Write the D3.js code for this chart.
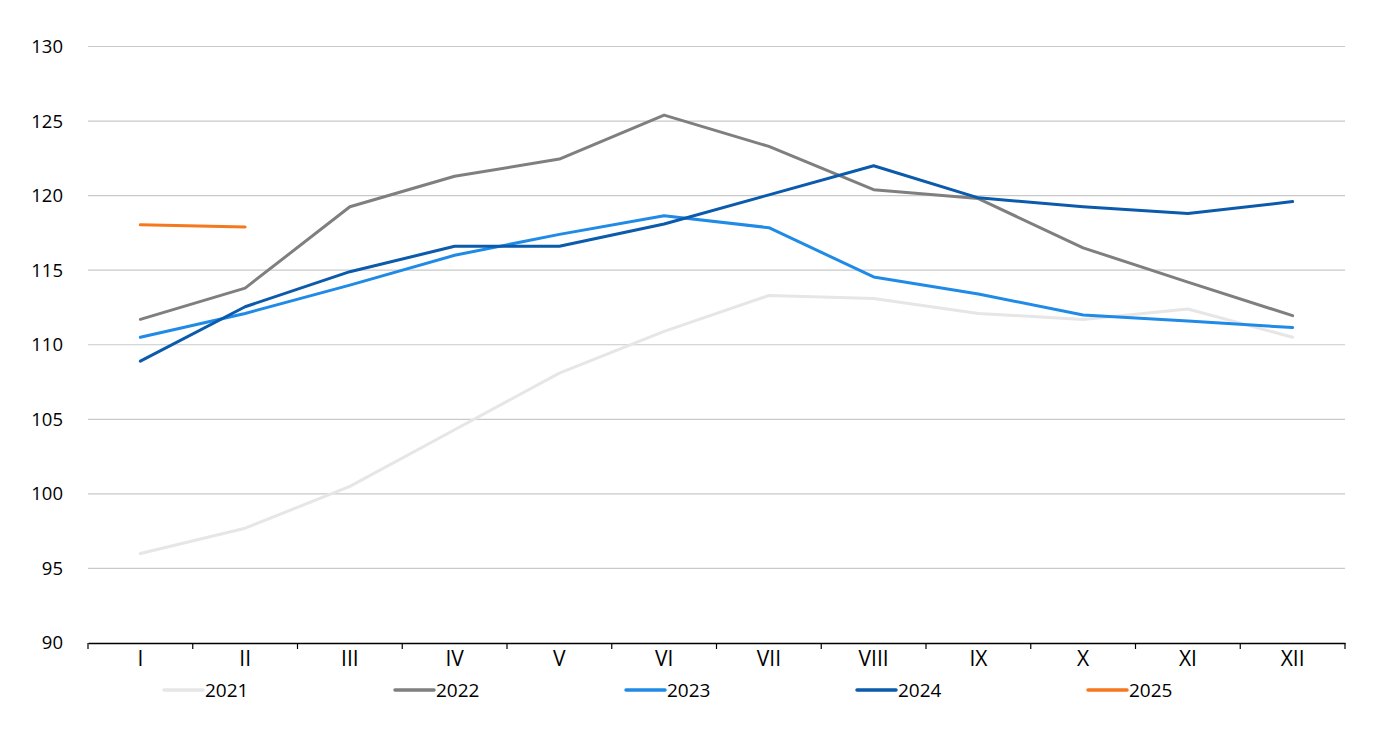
<!DOCTYPE html>
<html>
<head>
<meta charset="utf-8">
<script src="https://cdn.jsdelivr.net/npm/d3@7"></script>
<style>
  body { margin: 0; background: #fff; }
  svg { font-family: "Open Sans", "Liberation Sans", sans-serif; }
</style>
</head>
<body>
<svg width="1400" height="734"></svg>
<script>
// months and y ticks
let months = ["I", "II", "III", "IV", "V", "VI", "VII", "VIII", "IX", "X", "XI", "XII"];
let yTicks = [90, 95, 100, 105, 110, 115, 120, 125, 130];
let years = ["2021", "2022", "2023", "2024", "2025"];

let v2021 = [96.0, 97.7, 100.5, 104.3, 108.1, 110.9, 113.3, 113.1, 112.1, 111.7, 112.4, 110.5];
let v2022 = [111.7, 113.8, 119.25, 121.3, 122.45, 125.4, 123.3, 120.4, 119.8, 116.5, 114.2, 111.95];
let v2023 = [110.5, 112.1, 114.0, 116.0, 117.4, 118.65, 117.85, 114.55, 113.4, 112.0, 111.6, 111.15];
let v2024 = [108.9, 112.55, 114.9, 116.6, 116.6, 118.1, 120.05, 122.0, 119.85, 119.25, 118.8, 119.6];
let v2025 = [118.05, 117.9];

let seriesVals = [v2021, v2022, v2023, v2024, v2025];
let colors = ["#e6e6e6", "#7f7f7f", "#1f8be6", "#0b5aab", "#f5781e"];

let svg = d3.select("svg"),
    margin = {top: 46.5, right: 55, bottom: 91, left: 88},
    width = +svg.attr("width") - margin.left - margin.right,
    height = +svg.attr("height") - margin.top - margin.bottom,
    g = svg.append("g").attr("transform", "translate(" + margin.left + "," + margin.top + ")");

let x = d3.scaleBand().domain(months).range([0, width]);
let y = d3.scaleLinear().domain([90, 130]).range([height, 0]);

// gridlines
g.append("g")
  .selectAll("line")
  .data(yTicks.slice(1))
  .enter().append("line")
    .attr("x1", 0)
    .attr("x2", width)
    .attr("y1", function(d) { return y(d); })
    .attr("y2", function(d) { return y(d); })
    .attr("stroke", "#c9c9c9")
    .attr("stroke-width", 1.2);

// y labels
g.append("g")
  .selectAll("text")
  .data(yTicks)
  .enter().append("text")
    .attr("x", -25)
    .attr("y", function(d) { return y(d); })
    .attr("dy", "0.35em")
    .attr("text-anchor", "end")
    .attr("font-size", 18.5)
    .attr("fill", "#000")
    .text(function(d) { return d; });

// x axis
let xAxis = g.append("g")
  .attr("transform", "translate(0," + height + ")")
  .call(d3.axisBottom(x).tickSize(0).tickPadding(8));
xAxis.select(".domain").attr("stroke", "#000").attr("stroke-width", 1.3);
xAxis.selectAll("text").attr("font-size", 21).attr("font-family", "Open Sans, sans-serif").attr("fill", "#000");

let bounds = d3.range(months.length + 1).map(function(i) { return i * x.step(); });
xAxis.selectAll(".bound")
  .data(bounds)
  .enter().append("line")
    .attr("class", "bound")
    .attr("x1", function(d) { return d; })
    .attr("x2", function(d) { return d; })
    .attr("y1", 0)
    .attr("y2", 6)
    .attr("stroke", "#000")
    .attr("stroke-width", 1.2);

// lines
let line = d3.line()
  .x(function(d, i) { return x(months[i]) + x.bandwidth() / 2; })
  .y(function(d) { return y(d); });

g.append("g")
  .selectAll("path")
  .data(seriesVals)
  .enter().append("path")
    .attr("d", line)
    .attr("fill", "none")
    .attr("stroke", function(d, i) { return colors[i]; })
    .attr("stroke-width", 3)
    .attr("stroke-linejoin", "round")
    .attr("stroke-linecap", "round");

// legend
let legend = svg.append("g")
  .selectAll("g")
  .data(years)
  .enter().append("g")
    .attr("transform", function(d, i) { return "translate(" + (164 + i * 231) + ",690)"; });

legend.append("line")
  .attr("x1", 0)
  .attr("x2", 39)
  .attr("stroke", function(d, i) { return colors[i]; })
  .attr("stroke-width", 3.5)
  .attr("stroke-linecap", "round");

legend.append("text")
  .attr("x", 41)
  .attr("dy", "0.35em")
  .attr("font-size", 19)
  .attr("fill", "#000")
  .text(function(d) { return d; });
</script>
</body>
</html>
